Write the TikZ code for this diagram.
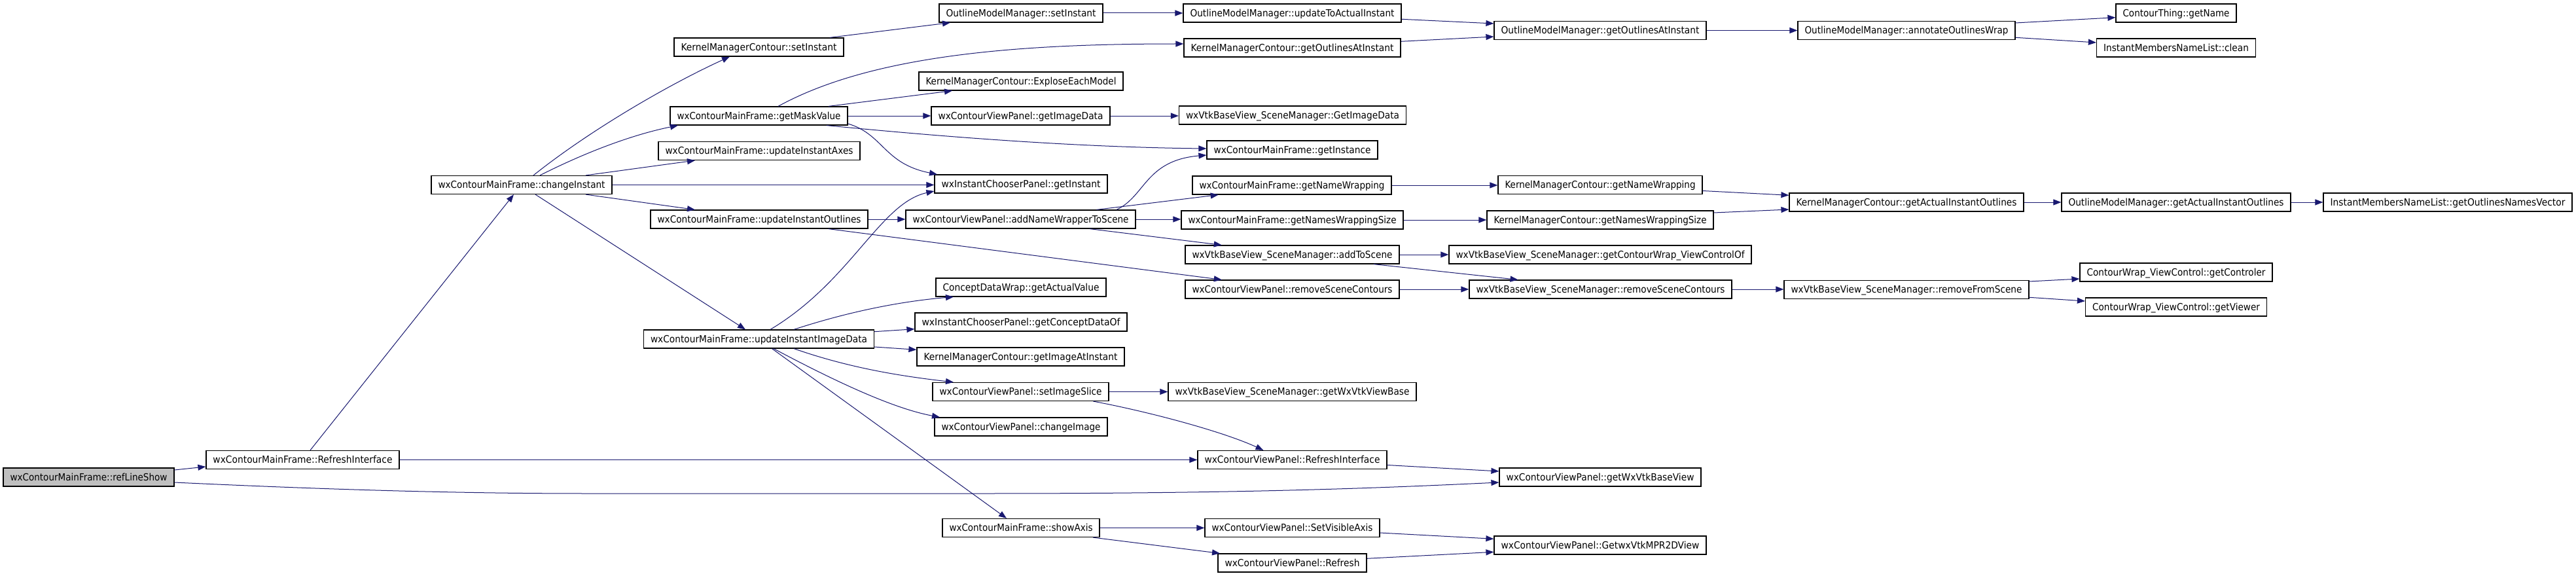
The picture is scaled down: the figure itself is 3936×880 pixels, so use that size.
\documentclass[tikz,border=0pt]{standalone}
\usepackage{fontspec}
\setmainfont{DejaVu Sans}
\usepackage{graphicx}
\usetikzlibrary{arrows.meta,calc}
\definecolor{edgec}{HTML}{191970}
\definecolor{rootfill}{HTML}{BFBFBF}
\tikzset{
  fn/.style={draw=black, line width=1.2pt, fill=white, rectangle, inner sep=0pt,
    minimum height=28pt, text height=12pt, text depth=1.4pt,
    font=\fontsize{15}{17}\selectfont},
  rootnode/.style={fill=rootfill},
  call/.style={draw=edgec, line width=1pt, -{Triangle[length=12pt,width=9pt]}},
}
\newcommand\gnode[6][]{%
  \pgfmathsetlengthmacro\tw{#5-21}%
  \node[fn,#1,minimum width=#5pt] (#2) at (#3,#4) {\resizebox{\tw}{\height}{#6}};}
\begin{document}
\begin{tikzpicture}[x=1pt,y=-1pt]
\fill[white] (0,0) rectangle (3936,880);
\useasboundingbox (0,0) rectangle (3936,880);
% column 1-4
\gnode[rootnode]{refline}{135.5}{729}{261}{wxContourMainFrame::refLineShow}
\gnode{mfrefresh}{462.5}{702.5}{295}{wxContourMainFrame::RefreshInterface}
\gnode{changeinst}{797}{282.5}{276}{wxContourMainFrame::changeInstant}
\gnode{kmcsetinst}{1159.5}{72}{259}{KernelManagerContour::setInstant}
\gnode{maskval}{1159.5}{177}{271}{wxContourMainFrame::getMaskValue}
\gnode{instaxes}{1160}{230.5}{308}{wxContourMainFrame::updateInstantAxes}
\gnode{instoutl}{1160}{335}{332}{wxContourMainFrame::updateInstantOutlines}
\gnode{instimg}{1159.5}{518}{352}{wxContourMainFrame::updateInstantImageData}
% column 5
\gnode{ommsetinst}{1560}{20}{250}{OutlineModelManager::setInstant}
\gnode{explose}{1560}{124}{312}{KernelManagerContour::ExploseEachModel}
\gnode{vpimgdata}{1559.5}{177}{273}{wxContourViewPanel::getImageData}
\gnode{icgetinst}{1560}{281}{264}{wxInstantChooserPanel::getInstant}
\gnode{addnamewrap}{1559.5}{335}{351}{wxContourViewPanel::addNameWrapperToScene}
\gnode{actualval}{1560}{439}{260}{ConceptDataWrap::getActualValue}
\gnode{conceptof}{1560}{492}{324}{wxInstantChooserPanel::getConceptDataOf}
\gnode{imgatinst}{1559.5}{545}{317}{KernelManagerContour::getImageAtInstant}
\gnode{setslice}{1559.5}{598.5}{269}{wxContourViewPanel::setImageSlice}
\gnode{changeimg}{1560}{652}{264}{wxContourViewPanel::changeImage}
\gnode{showaxis}{1560}{806.5}{240}{wxContourMainFrame::showAxis}
% column 6
\gnode{updactual}{1974.5}{20}{333}{OutlineModelManager::updateToActualInstant}
\gnode{kmcoutlinst}{1974.5}{73}{331}{KernelManagerContour::getOutlinesAtInstant}
\gnode{smimgdata}{1975}{176}{347}{wxVtkBaseView\_SceneManager::GetImageData}
\gnode{getinstance}{1974.5}{229}{261}{wxContourMainFrame::getInstance}
\gnode{mfnamewrap}{1974}{283}{304}{wxContourMainFrame::getNameWrapping}
\gnode{mfnamesize}{1974.5}{336}{339}{wxContourMainFrame::getNamesWrappingSize}
\gnode{addtoscene}{1974.5}{389}{327}{wxVtkBaseView\_SceneManager::addToScene}
\gnode{vpremove}{1974.5}{442}{327}{wxContourViewPanel::removeSceneContours}
\gnode{viewbase}{1974.5}{598.5}{379}{wxVtkBaseView\_SceneManager::getWxVtkViewBase}
\gnode{vprefresh}{1974.5}{702.5}{289}{wxContourViewPanel::RefreshInterface}
\gnode{visaxis}{1974.5}{806.5}{267}{wxContourViewPanel::SetVisibleAxis}
\gnode{vpref}{1974.5}{860}{227}{wxContourViewPanel::Refresh}
% column 7
\gnode{ommoutlinst}{2445}{46.5}{324}{OutlineModelManager::getOutlinesAtInstant}
\gnode{kmcnamewrap}{2445}{282.5}{312}{KernelManagerContour::getNameWrapping}
\gnode{kmcnamesize}{2445}{336}{346}{KernelManagerContour::getNamesWrappingSize}
\gnode{viewctrlof}{2445}{389}{462}{wxVtkBaseView\_SceneManager::getContourWrap\_ViewControlOf}
\gnode{smremove}{2445.5}{442}{401}{wxVtkBaseView\_SceneManager::removeSceneContours}
\gnode{wxbaseview}{2445}{729}{308}{wxContourViewPanel::getWxVtkBaseView}
\gnode{mpr2d}{2445}{833}{324}{wxContourViewPanel::GetwxVtkMPR2DView}
% column 8
\gnode{annotate}{2913}{46.5}{332}{OutlineModelManager::annotateOutlinesWrap}
\gnode{kmcactual}{2913}{309}{358}{KernelManagerContour::getActualInstantOutlines}
\gnode{removefrom}{2913}{442.5}{374}{wxVtkBaseView\_SceneManager::removeFromScene}
% column 9-10
\gnode{getname}{3325}{20}{184}{ContourThing::getName}
\gnode{clean}{3325}{73}{243}{InstantMembersNameList::clean}
\gnode{ommactual}{3325}{309}{350}{OutlineModelManager::getActualInstantOutlines}
\gnode{controler}{3325}{416}{294}{ContourWrap\_ViewControl::getControler}
\gnode{viewer}{3325}{469}{277}{ContourWrap\_ViewControl::getViewer}
\gnode{namesvec}{3740}{309}{380}{InstantMembersNameList::getOutlinesNamesVector}

% edges
\draw[call] ($(refline.east)+(0,-11)$) -- ($(mfrefresh.west)+(0,10.5)$);
\draw[call] ($(refline.east)+(0,8)$) .. controls (500,748) and (700,754) .. (900,754)
   -- (1500,754) .. controls (1900,754) and (2100,746) .. ($(wxbaseview.west)+(0,8)$);
\draw[call] ($(mfrefresh.north)+(11.5,0)$) -- ($(changeinst.south)+(-12,0)$);
\draw[call] (mfrefresh.east) -- (vprefresh.west);
\draw[call] ($(changeinst.north)+(18,0)$) .. controls (900,200) and (1020,130) .. ($(kmcsetinst.south)+(-44.5,0)$);
\draw[call] ($(changeinst.north)+(28,0)$) .. controls (900,230) and (970,205) .. ($(maskval.south)+(-123.5,0)$);
\draw[call] ($(changeinst.north)+(98,0)$) -- ($(instaxes.south)+(-98,0)$);
\draw[call] (changeinst.east) -- (changeinst.east -| icgetinst.west);
\draw[call] ($(changeinst.south)+(98,0)$) -- ($(instoutl.north)+(-98,0)$);
\draw[call] ($(changeinst.south)+(21,0)$) -- ($(instimg.north)+(-20.5,0)$);
\draw[call] ($(kmcsetinst.north)+(108.5,0)$) -- ($(ommsetinst.south)+(-108,0)$);
\draw[call] ($(maskval.north)+(29.5,0)$) .. controls (1330,85) and (1550,67) .. ($(kmcoutlinst.west)+(0,-6)$);
\draw[call] ($(maskval.north)+(106.5,0)$) -- ($(explose.south)+(-105,0)$);
\draw[call] (maskval.east) -- (vpimgdata.west);
\draw[call] ($(maskval.south)+(103.5,0)$) .. controls (1450,210) and (1650,225) .. ($(getinstance.west)+(0,-2)$);
\draw[call] ($(maskval.east)+(0,12)$) .. controls (1350,205) and (1350,250) .. ($(icgetinst.north)+(-128,0)$);
\draw[call] (instoutl.east) -- (instoutl.east -| addnamewrap.west);
\draw[call] ($(instoutl.south)+(105.7,0)$) -- ($(vpremove.north)+(-107.7,0)$);
\draw[call] ($(instimg.north)+(17.5,0)$) .. controls (1300,430) and (1345,310) .. ($(icgetinst.west)+(0,11)$);
\draw[call] ($(instimg.north)+(53.5,0)$) .. controls (1300,475) and (1380,460) .. ($(actualval.south)+(-103,0)$);
\draw[call] ($(instimg.east)+(0,-11.3)$) -- ($(conceptof.west)+(0,10.7)$);
\draw[call] ($(instimg.east)+(0,12)$) -- ($(imgatinst.west)+(0,-10.7)$);
\draw[call] ($(instimg.south)+(53.5,0)$) .. controls (1300,563) and (1380,575) .. ($(setslice.north)+(-102.5,0)$);
\draw[call] ($(instimg.south)+(22.5,0)$) .. controls (1290,590) and (1370,625) .. ($(changeimg.north)+(-124,0)$);
\draw[call] ($(instimg.south)+(20,0)$) -- ($(showaxis.north)+(-22,0)$);
\draw[call] (ommsetinst.east) -- (updactual.west);
\draw[call] ($(updactual.east)+(0,9.3)$) -- ($(ommoutlinst.west)+(0,-10.5)$);
\draw[call] ($(kmcoutlinst.east)+(0,-9.7)$) -- ($(ommoutlinst.west)+(0,9.5)$);
\draw[call] (vpimgdata.east) -- (vpimgdata.east -| smimgdata.west);
\draw[call] ($(addnamewrap.north)+(146.5,0)$) .. controls (1750,300) and (1750,245) .. ($(getinstance.west)+(0,8)$);
\draw[call] ($(addnamewrap.north)+(116,0)$) -- ($(mfnamewrap.south)+(-112.3,0)$);
\draw[call] (addnamewrap.east) -- (addnamewrap.east -| mfnamesize.west);
\draw[call] ($(addnamewrap.south)+(105.5,0)$) -- ($(addtoscene.north)+(-107.7,0)$);
\draw[call] (vpremove.east) -- (smremove.west);
\draw[call] (addtoscene.east) -- (viewctrlof.west);
\draw[call] ($(addtoscene.south)+(124.5,0)$) -- ($(smremove.north)+(-126,0)$);
\draw[call] (setslice.east) -- (viewbase.west);
\draw[call] ($(setslice.south)+(111,0)$) .. controls (1760,630) and (1870,660) .. ($(vprefresh.north)+(-44,0)$);
\draw[call] ($(vprefresh.east)+(0,8)$) -- ($(wxbaseview.west)+(0,-9)$);
\draw[call] (showaxis.east) -- (visaxis.west);
\draw[call] ($(showaxis.south)+(110,0)$) -- ($(vpref.north)+(-110.5,0)$);
\draw[call] ($(visaxis.east)+(0,7.5)$) -- ($(mpr2d.west)+(0,-9.7)$);
\draw[call] ($(vpref.east)+(0,-6.7)$) -- ($(mpr2d.west)+(0,10.3)$);
\draw[call] (mfnamewrap.east) -- (mfnamewrap.east -| kmcnamewrap.west);
\draw[call] (mfnamesize.east) -- (kmcnamesize.west);
\draw[call] ($(kmcnamewrap.east)+(0,9)$) -- ($(kmcactual.west)+(0,-10.7)$);
\draw[call] ($(kmcnamesize.east)+(0,-11)$) -- ($(kmcactual.west)+(0,11)$);
\draw[call] (ommoutlinst.east) -- (annotate.west);
\draw[call] (smremove.east) -- (smremove.east -| removefrom.west);
\draw[call] ($(annotate.east)+(0,-11.5)$) -- ($(getname.west)+(0,6.7)$);
\draw[call] ($(annotate.east)+(0,10.8)$) -- ($(clean.west)+(0,-8)$);
\draw[call] (kmcactual.east) -- (ommactual.west);
\draw[call] (ommactual.east) -- (namesvec.west);
\draw[call] ($(removefrom.east)+(0,-12.5)$) -- ($(controler.west)+(0,10)$);
\draw[call] ($(removefrom.east)+(0,11.8)$) -- ($(viewer.west)+(0,-9)$);
\end{tikzpicture}
\end{document}
